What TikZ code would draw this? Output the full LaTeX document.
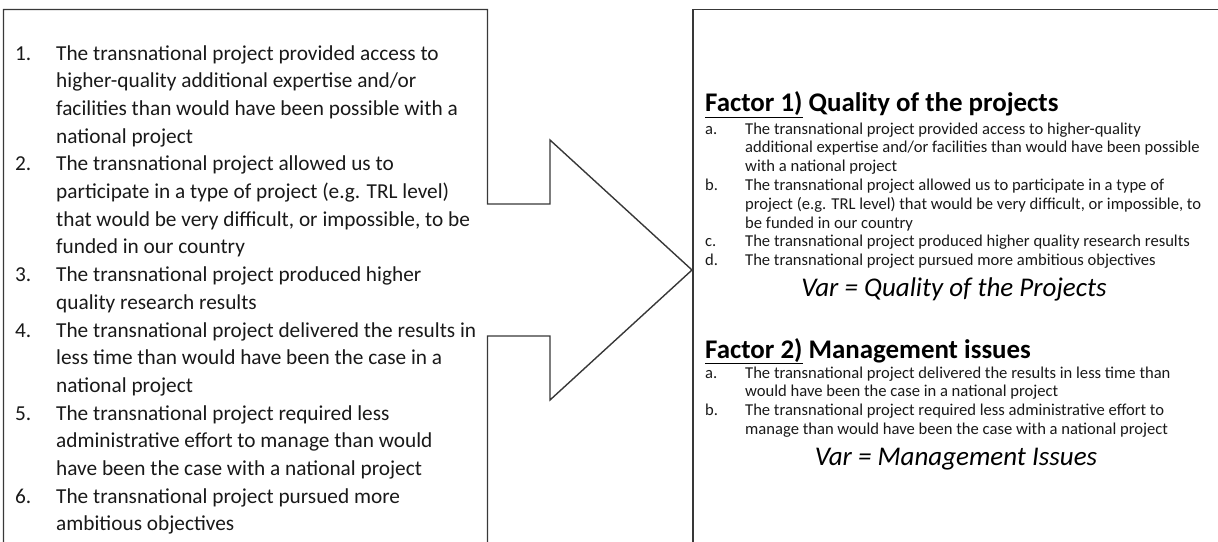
\documentclass[tikz,border=0pt]{standalone}
\usepackage{fontspec}
\setmainfont{Carlito}
\usepackage{array}
\begin{document}
\begin{tikzpicture}[x=1pt,y=-1pt,
  outline/.style={draw=black!78, line width=1.4pt, line join=miter},
  listtext/.style={anchor=base west, inner sep=0pt, text=black!90},
  heading/.style={anchor=base west, inner sep=0pt, font=\fontsize{26.9}{30}\selectfont\bfseries},
  varline/.style={anchor=base, inner sep=0pt, font=\fontsize{27}{30}\selectfont\itshape}]
\useasboundingbox (0,0) rectangle (1218,541);
\begin{scope}
\clip (0,0) rectangle (1218,541);
% left frame merged with the block arrow
\coordinate (lb) at (3.5,560);
\coordinate (lt) at (3.5,9.5);
\coordinate (rt) at (487.5,9.5);
\coordinate (sa) at (487.5,204);
\coordinate (sb) at (550,204);
\coordinate (ha) at (550,140);
\coordinate (tip) at (692,270);
\coordinate (hb) at (550,400);
\coordinate (sc) at (550,336);
\coordinate (sd) at (487.5,336);
\coordinate (rb) at (487.5,560);
\draw[outline] (lb) -- (lt) -- (rt) -- (sa) -- (sb) -- (ha) -- (tip) -- (hb) -- (sc) -- (sd) -- (rb);
% right frame
\coordinate (qb) at (693,560);
\coordinate (qt) at (693,9.5);
\coordinate (qr) at (1230,9.5);
\draw[outline] (qb) -- (qt) -- (qr);
\end{scope}

% left list
\node[listtext, font=\fontsize{21.3}{27.7}\selectfont] (items) at (15,60) {%
\begin{tabular}[t]{@{}p{41pt}@{}l@{}}
1. & The transnational project provided access to\\
   & higher-quality additional expertise and/or\\
   & facilities than would have been possible with a\\
   & national project\\
2. & The transnational project allowed us to\\
   & participate in a type of project (e.g. TRL level)\\
   & that would be very difficult, or impossible, to be\\
   & funded in our country\\
3. & The transnational project produced higher\\
   & quality research results\\
4. & The transnational project delivered the results in\\
   & less time than would have been the case in a\\
   & national project\\
5. & The transnational project required less\\
   & administrative effort to manage than would\\
   & have been the case with a national project\\
6. & The transnational project pursued more\\
   & ambitious objectives
\end{tabular}};

% factor 1
\node[heading] (f1) at (705,111.5) {\underline{Factor 1)} Quality of the projects};
\node[listtext, font=\fontsize{16.6}{18.8}\selectfont] (f1items) at (705,134) {%
\begin{tabular}[t]{@{}p{40pt}@{}l@{}}
a. & The transnational project provided access to higher-quality\\
   & additional expertise and/or facilities than would have been possible\\
   & with a national project\\
b. & The transnational project allowed us to participate in a type of\\
   & project (e.g. TRL level) that would be very difficult, or impossible, to\\
   & be funded in our country\\
c. & The transnational project produced higher quality research results\\
d. & The transnational project pursued more ambitious objectives
\end{tabular}};
\node[varline] (v1) at (954,296) {Var = Quality of the Projects};

% factor 2
\node[heading] (f2) at (705,358) {\underline{Factor 2)} Management issues};
\node[listtext, font=\fontsize{16.6}{18.8}\selectfont] (f2items) at (705,378) {%
\begin{tabular}[t]{@{}p{40pt}@{}l@{}}
a. & The transnational project delivered the results in less time than\\
   & would have been the case in a national project\\
b. & The transnational project required less administrative effort to\\
   & manage than would have been the case with a national project
\end{tabular}};
\node[varline] (v2) at (956,465) {Var = Management Issues};
\end{tikzpicture}
\end{document}
